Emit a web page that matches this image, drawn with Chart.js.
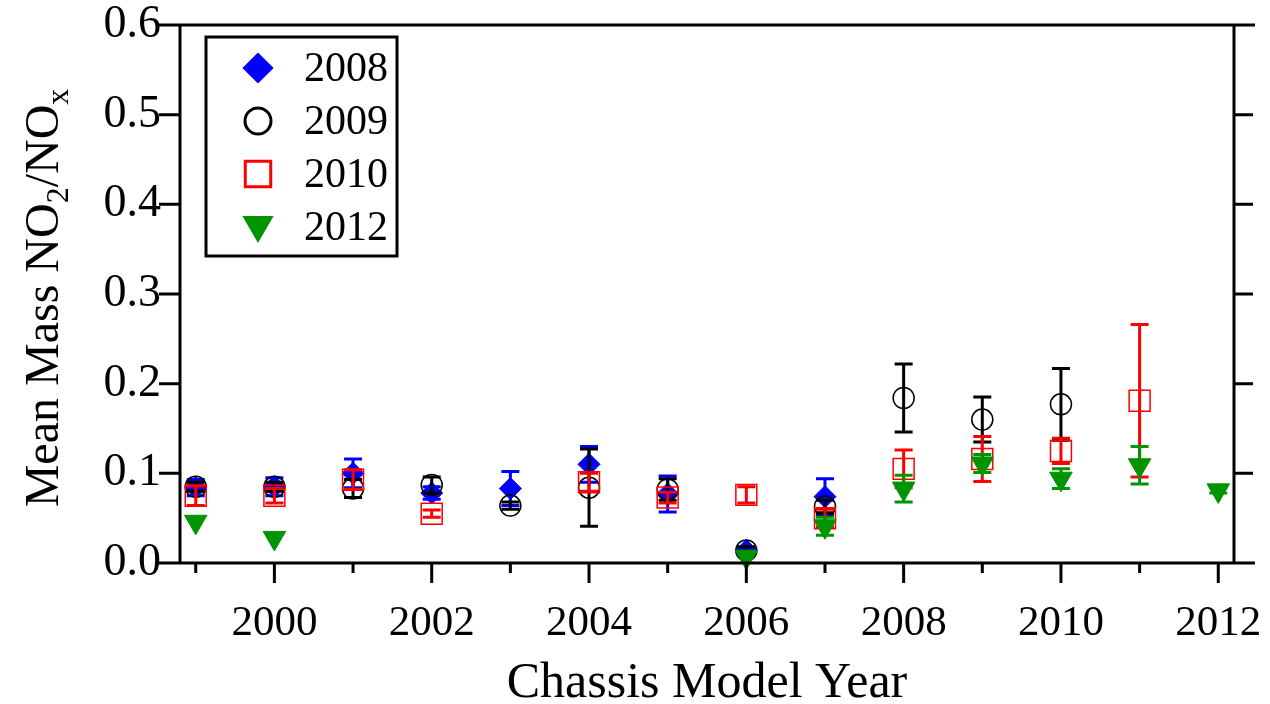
<!DOCTYPE html>
<html>
<head>
<meta charset="utf-8">
<script src="https://cdn.jsdelivr.net/npm/chart.js@4.4.0/dist/chart.umd.min.js"></script>
<style>
  html, body { margin: 0; padding: 0; background: #fff; }
</style>
</head>
<body>
<canvas id="chart" width="1270" height="704"></canvas>
<script>
// chassis model year (x), mean NO2/NOx and error half-width, one set per test year
const years2008 = [1999, 2000, 2001, 2002, 2003, 2004, 2005, 2006, 2007];
const mean2008  = [0.084, 0.085, 0.100, 0.078, 0.083, 0.110, 0.077, 0.014, 0.074];
const err2008   = [0.009, 0.010, 0.016, 0.007, 0.019, 0.020, 0.020, 0.003, 0.020];

const years2009 = [1999, 2000, 2001, 2002, 2003, 2004, 2005, 2006, 2007, 2008, 2009, 2010];
const mean2009  = [0.085, 0.085, 0.083, 0.087, 0.064, 0.084, 0.082, 0.014, 0.063, 0.184, 0.160, 0.177];
const err2009   = [0.005, 0.005, 0.010, 0.009, 0.004, 0.043, 0.012, 0.004, 0.007, 0.038, 0.025, 0.040];

const years2010 = [1999, 2000, 2001, 2002, 2004, 2005, 2006, 2007, 2008, 2009, 2010, 2011];
const mean2010  = [0.075, 0.075, 0.093, 0.055, 0.090, 0.073, 0.076, 0.050, 0.105, 0.116, 0.125, 0.181];
const err2010   = [0.011, 0.008, 0.011, 0.004, 0.010, 0.006, 0.009, 0.010, 0.021, 0.025, 0.014, 0.085];

const years2012 = [1999, 2000, 2006, 2007, 2008, 2009, 2010, 2011, 2012];
const mean2012  = [0.046, 0.028, 0.007, 0.041, 0.083, 0.111, 0.094, 0.109, 0.081];
const err2012   = [0, 0, 0, 0.010, 0.015, 0.010, 0.011, 0.021, 0.003];

const seriesLabels = ['2008', '2009', '2010', '2012'];

const FONT = 'Liberation Serif, Times New Roman, serif';

function points(xs, ys) {
    return xs.map((x, i) => ({x: x, y: ys[i]}));
}

// keep the plot box where the reference has it
function noPad(s) {
    s.paddingLeft = 0; s.paddingRight = 0;
    s.paddingTop = 0; s.paddingBottom = 0;
}

// error bars, frame, outward ticks, legend box and y title
const extras = {
    id: 'extras',
    afterDatasetDraw(chart, args) {
        const ds = chart.data.datasets[args.index];
        const ctx = chart.ctx, xs = chart.scales.x, ys = chart.scales.y;
        ctx.save();
        ctx.strokeStyle = ds.errColor;
        ctx.lineWidth = 3;
        ds.data.forEach((p, i) => {
            const e = ds.errors[i];
            if (!e) return;
            const px = xs.getPixelForValue(p.x);
            const top = ys.getPixelForValue(p.y + e);
            const bot = ys.getPixelForValue(p.y - e);
            ctx.beginPath();
            ctx.moveTo(px, top); ctx.lineTo(px, bot);
            ctx.moveTo(px - 9, top); ctx.lineTo(px + 9, top);
            ctx.moveTo(px - 9, bot); ctx.lineTo(px + 9, bot);
            ctx.stroke();
        });
        ctx.restore();
    },
    afterDraw(chart) {
        const ctx = chart.ctx, a = chart.chartArea;
        const xs = chart.scales.x, ys = chart.scales.y;
        ctx.save();
        ctx.strokeStyle = '#000';
        ctx.lineWidth = 3;
        ctx.beginPath();
        // frame, horizontal lines run out to the tick length
        ctx.moveTo(a.left - 21, a.top); ctx.lineTo(a.right + 21, a.top);
        ctx.moveTo(a.left - 21, a.bottom); ctx.lineTo(a.right + 21, a.bottom);
        ctx.moveTo(a.left, a.top); ctx.lineTo(a.left, a.bottom);
        ctx.moveTo(a.right, a.top); ctx.lineTo(a.right, a.bottom);
        ys.ticks.forEach(t => {
            const py = ys.getPixelForValue(t.value);
            ctx.moveTo(a.left - 21, py); ctx.lineTo(a.left, py);
            ctx.moveTo(a.right, py); ctx.lineTo(a.right + 19, py);
        });
        xs.ticks.forEach(t => {
            const px = xs.getPixelForValue(t.value);
            ctx.moveTo(px, a.bottom);
            ctx.lineTo(px, a.bottom + (t.value % 2 === 0 ? 20 : 10));
        });
        ctx.stroke();

        // legend
        ctx.strokeRect(206, 37, 191, 219);
        ctx.font = '42px ' + FONT;
        ctx.textBaseline = 'middle';
        ctx.textAlign = 'left';
        chart.data.datasets.forEach((ds, i) => {
            const cy = 68 + i * 53;
            ctx.fillStyle = ds.backgroundColor;
            ctx.strokeStyle = ds.borderColor;
            Chart.helpers.drawPoint(ctx, {
                pointStyle: ds.pointStyle,
                rotation: ds.rotation || 0,
                radius: ds.legendRadius,
                borderWidth: ds.borderWidth
            }, 258, cy + (ds.pointStyle === 'triangle' ? -2 : 0));
            ctx.fillStyle = '#000';
            ctx.fillText(ds.label, 304, cy + 2);
        });

        // y axis title with subscripts
        const runs = [
            ['Mean Mass NO', 48, 0],
            ['2', 32, 10],
            ['/NO', 48, 0],
            ['x', 32, 10]
        ];
        let total = 0;
        runs.forEach(r => { ctx.font = r[1] + 'px ' + FONT; total += ctx.measureText(r[0]).width; });
        ctx.translate(58, 298);
        ctx.rotate(-Math.PI / 2);
        ctx.textBaseline = 'alphabetic';
        ctx.fillStyle = '#000';
        let cx = -total / 2;
        runs.forEach(r => {
            ctx.font = r[1] + 'px ' + FONT;
            ctx.fillText(r[0], cx, r[2]);
            cx += ctx.measureText(r[0]).width;
        });
        ctx.restore();
    }
};

new Chart(document.querySelector('#chart'), {
    type: 'scatter',
    data: {
        datasets: [{
            label: seriesLabels[0],
            data: points(years2008, mean2008),
            errors: err2008,
            errColor: '#0000ff',
            pointStyle: 'rectRot',
            pointRadius: 11,
            legendRadius: 13.5,
            backgroundColor: '#0000ff',
            borderColor: '#0000ff',
            borderWidth: 1,
            order: 3
        }, {
            label: seriesLabels[1],
            data: points(years2009, mean2009),
            errors: err2009,
            errColor: '#000000',
            pointStyle: 'circle',
            pointRadius: 10.5,
            legendRadius: 13,
            backgroundColor: 'rgba(0,0,0,0)',
            borderColor: '#000000',
            borderWidth: 1.5,
            order: 2
        }, {
            label: seriesLabels[2],
            data: points(years2010, mean2010),
            errors: err2010,
            errColor: '#ff0000',
            pointStyle: 'rect',
            pointRadius: 14.8,
            legendRadius: 18,
            backgroundColor: 'rgba(0,0,0,0)',
            borderColor: '#ff0000',
            borderWidth: 1.5,
            order: 1
        }, {
            label: seriesLabels[3],
            data: points(years2012, mean2012),
            errors: err2012,
            errColor: '#009400',
            pointStyle: 'triangle',
            rotation: 180,
            pointRadius: 13,
            legendRadius: 15,
            backgroundColor: '#009400',
            borderColor: '#009400',
            borderWidth: 1,
            order: 0
        }].map(d => Object.assign(d, {clip: false, pointHoverRadius: d.pointRadius}))
    },
    options: {
        responsive: false,
        animation: false,
        devicePixelRatio: 1,
        events: [],
        layout: {
            padding: {left: 0, right: 36, top: 25, bottom: 0}
        },
        plugins: {
            legend: { display: false },
            tooltip: { enabled: false }
        },
        scales: {
            x: {
                type: 'linear',
                min: 1998.8,
                max: 2012.2,
                grid: { display: false },
                border: { display: false },
                ticks: {
                    stepSize: 1,
                    includeBounds: false,
                    autoSkip: false,
                    maxRotation: 0,
                    padding: 27,
                    color: '#000',
                    font: { family: FONT, size: 43 },
                    callback: v => (v % 2 === 0 ? String(v) : '')
                },
                title: {
                    display: true,
                    text: 'Chassis Model Year',
                    color: '#000',
                    font: { family: FONT, size: 50, lineHeight: 1 },
                    padding: { top: 0, bottom: -5 }
                },
                afterFit: s => { s.height = 141; noPad(s); }
            },
            y: {
                min: 0,
                max: 0.6,
                grid: { display: false },
                border: { display: false },
                ticks: {
                    stepSize: 0.1,
                    padding: 11,
                    color: '#000',
                    font: { family: FONT, size: 46 },
                    callback: v => v.toFixed(1)
                },
                afterFit: s => { s.width = 180; noPad(s); }
            }
        }
    },
    plugins: [extras]
});
</script>
</body>
</html>
